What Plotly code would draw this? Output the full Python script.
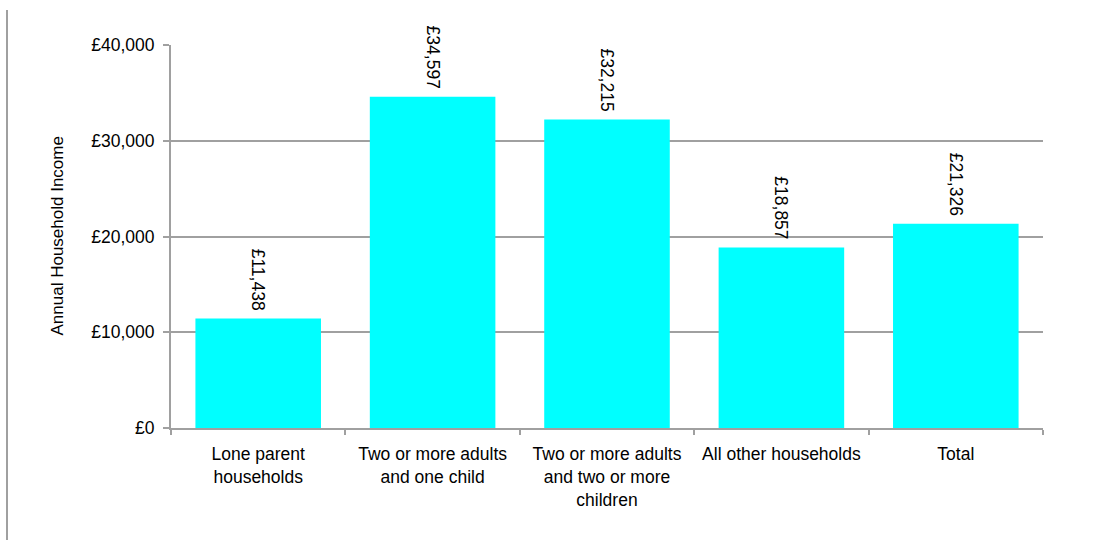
import plotly.graph_objects as go

# household types and mean annual income
categories = [
    "Lone parent<br>households",
    "Two or more adults<br>and one child",
    "Two or more adults<br>and two or more<br>children",
    "All other households",
    "Total",
]
income = [11438, 34597, 32215, 18857, 21326]
income_labels = ["£11,438", "£34,597", "£32,215", "£18,857", "£21,326"]
y_ticks = [0, 10000, 20000, 30000, 40000]
y_tick_labels = ["£0", "£10,000", "£20,000", "£30,000", "£40,000"]

FONT = "Liberation Sans, Arial, sans-serif"
GREY = "#a0a0a0"
SIZE = 17.5

L, T, R, B = 171, 45, 52, 112
PW, PH = 1095 - L - R, 540 - T - B

fig = go.Figure()
fig.add_trace(
    go.Bar(
        x=categories,
        y=income,
        # trailing nbsp keeps the rotated label a little off the bar top
        text=[s + "\u00a0" for s in income_labels],
        textposition="outside",
        textangle=90,
        constraintext="none",
        cliponaxis=False,
        textfont=dict(family=FONT, size=SIZE, color="#000000"),
        marker=dict(color="#00ffff", line=dict(width=0)),
        hoverinfo="x+y",
    )
)

fig.update_layout(
    width=1095,
    height=540,
    margin=dict(l=L, r=R, t=T, b=B),
    paper_bgcolor="white",
    plot_bgcolor="white",
    bargap=0.28,
    showlegend=False,
    font=dict(family=FONT, size=SIZE, color="#000000"),
    xaxis=dict(
        showline=True,
        linecolor=GREY,
        linewidth=2,
        ticks="outside",
        tickson="boundaries",
        ticklen=5,
        tickwidth=2,
        tickcolor=GREY,
        tickangle=0,
        ticklabelstandoff=9,
        showgrid=False,
    ),
    yaxis=dict(
        range=[0, 40000],
        tickvals=y_ticks,
        ticktext=y_tick_labels,
        showline=True,
        linecolor=GREY,
        linewidth=2,
        ticks="outside",
        ticklen=6,
        tickwidth=2,
        tickcolor=GREY,
        ticklabelstandoff=5,
        showgrid=True,
        gridcolor=GREY,
        gridwidth=2,
        zeroline=False,
    ),
    annotations=[
        dict(
            text="Annual Household Income",
            xref="paper",
            yref="paper",
            x=(57 - L) / PW,
            y=0.5,
            xanchor="center",
            yanchor="middle",
            textangle=-90,
            showarrow=False,
            font=dict(family=FONT, size=17, color="#000000"),
        )
    ],
    shapes=[
        dict(
            type="line",
            xref="paper",
            yref="paper",
            x0=(7 - L) / PW,
            x1=(7 - L) / PW,
            y0=(PH + T - 10) / PH,
            y1=-(B + 5) / PH,
            line=dict(color=GREY, width=2),
        )
    ],
)

# drop the default body margin so the figure sits at the page corner
fig.write_html(
    "out.html",
    config={"displayModeBar": False},
    post_script="document.body.style.margin='0';",
)
